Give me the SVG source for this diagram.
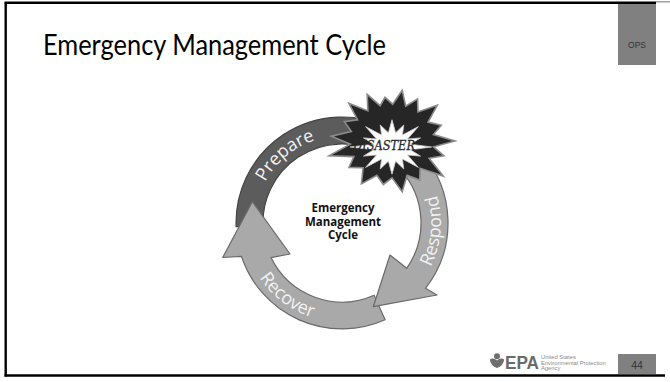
<svg xmlns="http://www.w3.org/2000/svg" width="670" height="382" viewBox="0 0 670 382">
  <style>
    .frame { stroke: #000; stroke-width: 2.4; fill: none; }
    .tab { fill: #808080; }
    .tab-text { font-family: "Liberation Sans", Arial, sans-serif; fill: #333; text-anchor: middle; }
    .title { font-family: Lato, "Liberation Sans", sans-serif; font-size: 29px; fill: #000; }
    .band-dark { fill: #5c5c5c; stroke: #444; stroke-width: 1.2; stroke-linejoin: round; }
    .band-light { fill: #a9a9a9; stroke: #6a6a6a; stroke-width: 1.2; stroke-linejoin: round; }
    .arc-label { font-family: "Open Sans", "Liberation Sans", sans-serif; font-size: 18px; fill: #f2f2f2; }
    .center-label { font-family: "Open Sans", "Liberation Sans", sans-serif; font-size: 11.5px; font-weight: bold; fill: #111; text-anchor: middle; }
    .epa-small { font-family: "Liberation Sans", Arial, sans-serif; font-size: 5.8px; fill: #8a8a8a; }
  </style>
  <defs>
    <path id="prepare-arc" d="M 260.2,252.8 A 87 87 0 0 1 385.5,147.7"/>
    <path id="respond-arc" d="M 391.5,308.7 A 99 99 0 0 0 405.6,147.2"/>
    <path id="recover-arc" d="M 243,223 A 99 99 0 0 0 369.3,318.2"/>
  </defs>

  <rect width="670" height="382" fill="#fff"/>

  <!-- slide frame -->
  <g id="frame">
    <line class="frame" x1="5.7" y1="2.8" x2="5.7" y2="376.5"/>
    <line class="frame" x1="4.5" y1="2.8" x2="656" y2="2.8"/>
    <line x1="656" y1="1.8" x2="670" y2="1.8" stroke="#9a9a9a" stroke-width="1.4"/>
    <line class="frame" x1="4.5" y1="375.5" x2="665" y2="375.5"/>
  </g>

  <g id="title">
    <text class="title" x="43" y="55" textLength="343" lengthAdjust="spacingAndGlyphs">Emergency Management Cycle</text>
  </g>

  <g id="ops-tab">
    <rect class="tab" x="618" y="4" width="38" height="61"/>
    <text class="tab-text" x="637" y="48" font-size="8.5">OPS</text>
  </g>

  <g id="page-number">
    <rect class="tab" x="618" y="354" width="38" height="20"/>
    <text class="tab-text" x="637" y="368.5" font-size="10.5">44</text>
  </g>

  <g id="epa-logo">
    <g fill="#6e6e6e">
      <circle cx="497" cy="356.2" r="3"/>
      <path d="M489.8 359.6 q3.6 -2.4 7.2 0.8 q3.6 -3.2 7.2 -0.8 q-0.8 6.4 -7.2 8.4 q-6.4 -2 -7.2 -8.4 z"/>
    </g>
    <text x="505" y="368.5" font-family="Liberation Sans, Arial, sans-serif" font-weight="bold" font-size="18" fill="#6a6a6a" textLength="34" lengthAdjust="spacingAndGlyphs">EPA</text>
    <text class="epa-small" x="541" y="359">United States</text>
    <text class="epa-small" x="541" y="364.6">Environmental Protection</text>
    <text class="epa-small" x="541" y="370.2">Agency</text>
  </g>

  <!-- cycle arrows, drawn back to front -->
  <g id="connectors">
    <g id="prepare">
      <path class="band-dark" d="M 236.1,226.7 A 106 106 0 0 1 386.8,126.9 L 395.6,117.9 L 410.4,161.4 L 368.8,162.7 L 375.4,151.4 A 79 79 0 0 0 263.0,225.8 Z"/>
      <text class="arc-label"><textPath href="#prepare-arc" startOffset="50%" text-anchor="middle">Prepare</textPath></text>
    </g>
    <g id="recover">
      <path class="band-light" d="M 385.1,319.8 A 106 106 0 0 1 241.4,256.3 L 222.7,257.5 L 252.3,201.7 L 290,254 L 271,257.6 A 79 79 0 0 0 374.1,295.2 Z"/>
      <text class="arc-label"><textPath href="#recover-arc" startOffset="50%" text-anchor="middle">Recover</textPath></text>
    </g>
    <g id="respond">
      <path class="band-light" fill="#ababab" d="M 420.8,152.1 A 106 106 0 0 1 425.5,288.3 L 437,295 L 373.3,306.7 L 390,255 L 406.7,268.3 A 79 79 0 0 0 400.7,170.1 Z"/>
      <text class="arc-label"><textPath href="#respond-arc" startOffset="50%" text-anchor="middle">Respond</textPath></text>
    </g>
  </g>

  <!-- disaster starburst: dark spiky burst with a white core -->
  <g id="disaster">
    <polygon fill="#262626" stroke="#8c8c8c" stroke-width="1.6" stroke-linejoin="miter"
      points="455,141 433.5,146.8 443.9,155.8 429.1,158.3 443.3,176.1 420.1,168.3 419.8,180 407.1,175.4 402.2,191.7 392,177.8 383.3,184.5 376.9,175.4 361.4,183.9 363.1,167.7 349,167.4 353.9,156.6 329.1,155.8 350.2,144.2 331.3,136.3 351.4,131.5 344.4,121.6 357.6,119.9 348.9,103.3 367.9,110.9 367.2,94.3 380.1,105.7 385,97.3 392.7,104.2 402.2,90.3 405.7,106.2 417.6,98.8 417.9,112 437.3,105.3 428,122.1 441.3,125.3 433.4,134.6"/>
    <polygon fill="#fff" stroke="#cfcfcf" stroke-width="0.8"
      points="431.6,147 410.3,149.8 420.5,156.1 407.5,155 418.4,167.4 402.4,159 403.8,169 395.6,161.2 392,174.2 388.4,161.2 380.2,169 381.6,159 365.6,167.4 376.5,155 363.5,156.1 373.7,149.8 350.2,147 373.7,144.2 363.5,137.9 376.5,139 365.6,126.6 381.6,135 380.2,125 388.4,132.8 392,119.8 395.6,132.8 403.8,125 402.4,135 418.4,126.6 407.5,139 420.5,137.9 410.3,144.2"/>
    <text x="384" y="150" text-anchor="middle" font-family="DejaVu Serif, serif" font-style="italic" font-size="12.5" fill="#2a2a2a" stroke="#2a2a2a" stroke-width="0.3" textLength="62" lengthAdjust="spacingAndGlyphs">DISASTER</text>
  </g>

  <g id="center-label">
    <text class="center-label" x="343" y="211.5">Emergency</text>
    <text class="center-label" x="343" y="225.5">Management</text>
    <text class="center-label" x="343" y="239">Cycle</text>
  </g>
</svg>
